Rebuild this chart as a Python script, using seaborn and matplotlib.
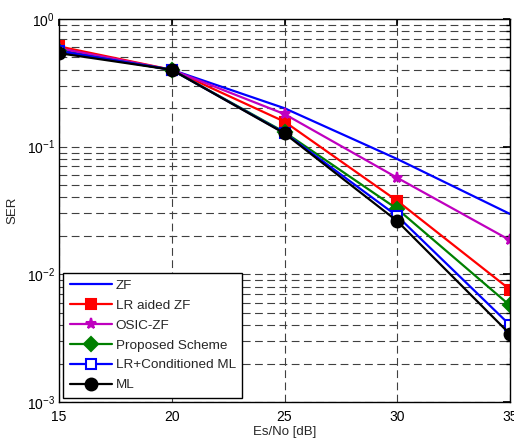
import matplotlib
matplotlib.use("Agg")
import matplotlib.pyplot as plt
import seaborn as sns
import pandas as pd
import numpy as np
from matplotlib.ticker import LogLocator, NullFormatter

sns.set_theme(style="white")
plt.rcParams['font.family'] = ['Liberation Sans', 'DejaVu Sans']
plt.rcParams['mathtext.fontset'] = 'custom'
plt.rcParams['mathtext.rm'] = 'Liberation Sans'
plt.rcParams['mathtext.it'] = 'Liberation Sans'

snr = [15, 20, 25, 30, 35]
zf = [0.57, 0.40, 0.200, 0.080, 0.0297]
lr_zf = [0.61, 0.40, 0.157, 0.0376, 0.0076]
osic_zf = [0.59, 0.40, 0.180, 0.057, 0.0185]
proposed = [0.56, 0.40, 0.130, 0.0325, 0.0057]
lr_cond_ml = [0.56, 0.40, 0.128, 0.0286, 0.0040]
ml = [0.54, 0.40, 0.127, 0.0261, 0.0034]

names = ["ZF", "LR aided ZF", "OSIC-ZF", "Proposed Scheme", "LR+Conditioned ML", "ML"]
series = [zf, lr_zf, osic_zf, proposed, lr_cond_ml, ml]
styles = {
    "ZF": dict(color=(0, 0, 1), marker=None),
    "LR aided ZF": dict(color=(1, 0, 0), marker="s", markersize=7, markerfacecolor=(1, 0, 0)),
    "OSIC-ZF": dict(color=(0.75, 0, 0.75), marker="*", markersize=8, markerfacecolor=(0.75, 0, 0.75)),
    "Proposed Scheme": dict(color=(0, 0.5, 0), marker="D", markersize=7, markerfacecolor=(0, 0.5, 0)),
    "LR+Conditioned ML": dict(color=(0, 0, 1), marker="s", markersize=7, markerfacecolor="white"),
    "ML": dict(color=(0, 0, 0), marker="o", markersize=8.5, markerfacecolor=(0, 0, 0)),
}

fig = plt.figure(figsize=(5.14, 4.44), dpi=100)
ax = fig.add_axes([0.1148, 0.0946, 0.8775, 0.8626])

for name, vals in zip(names, series):
    df = pd.DataFrame({"snr": snr, "ser": vals})
    st = styles[name]
    kw = dict(linewidth=1.6, color=st["color"])
    if st["marker"] is not None:
        kw.update(marker=st["marker"], markersize=st["markersize"],
                  markerfacecolor=st["markerfacecolor"], markeredgecolor=st["color"],
                  markeredgewidth=1.5)
    sns.lineplot(data=df, x="snr", y="ser", ax=ax, label=name, **kw)

ax.set_yscale("log")
ax.set_xlim(15, 35)
ax.set_ylim(1e-3, 1)
ax.set_xticks([15, 20, 25, 30, 35])
ax.yaxis.set_major_locator(LogLocator(base=10, numticks=10))
ax.yaxis.set_minor_locator(LogLocator(base=10, subs=np.arange(2, 10), numticks=20))
ax.yaxis.set_minor_formatter(NullFormatter())

grid_kw = dict(color=(0.25, 0.25, 0.25), linestyle=(0, (7, 4)), linewidth=0.8)
ax.grid(True, which="major", axis="both", **grid_kw)
ax.grid(True, which="minor", axis="y", **grid_kw)
ax.set_axisbelow(True)

ax.tick_params(axis="both", which="both", direction="in", top=True, right=True,
               labelsize=10, colors="black", length=5)
ax.tick_params(axis="x", which="major", pad=6)
ax.tick_params(axis="y", which="minor", length=3)
ax.tick_params(axis="y", which="major", pad=3)
for sp in ax.spines.values():
    sp.set_color("black")
    sp.set_linewidth(1.0)

ax.set_xlabel("Es/No [dB]", fontsize=9.5, labelpad=1)
ax.set_ylabel("SER", fontsize=9.5, labelpad=6)

leg = ax.legend(loc="lower left", fontsize=9.7, frameon=True, fancybox=False,
                borderaxespad=0.3, handlelength=3.1, labelspacing=0.55,
                borderpad=0.5, handletextpad=0.3)
leg.get_frame().set_edgecolor("black")
leg.get_frame().set_linewidth(1.0)
leg.get_frame().set_alpha(1)

fig.savefig("out.png", dpi=100)
